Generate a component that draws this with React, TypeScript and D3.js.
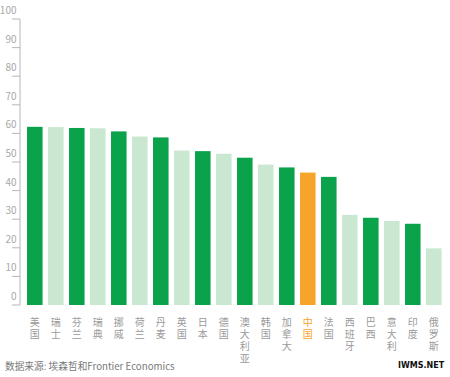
import React from "react";
import * as d3 from "d3";

const countries = ["美国","瑞士","芬兰","瑞典","挪威","荷兰","丹麦","英国","日本","德国","澳大利亚","韩国","加拿大","中国","法国","西班牙","巴西","意大利","印度","俄罗斯"];
const values = [62.3,62.2,61.9,61.8,60.7,58.9,58.6,54.0,53.8,52.9,51.5,49.1,48.1,46.3,44.8,31.5,30.5,29.4,28.4,19.8];
const shades = ["dark","light","dark","light","dark","light","dark","light","dark","light","dark","light","dark","orange","dark","light","dark","light","dark","light"];
const yTicks = [0,10,20,30,40,50,60,70,80,90,100];
const sourceText = "数据来源: 埃森哲和Frontier Economics";

const W = 450, H = 377;
const colorMap: Record<string, string> = { dark: "#0aa24b", light: "#c9e7d1", orange: "#f6a42a" };

export default function App() {
  const x = d3.scaleBand<string>().domain(countries).range([24.3, 444.3]).paddingInner(0.26).paddingOuter(0.13);
  const y = d3.scaleLinear().domain([0, 100]).range([305, 19]);
  const font = "'Noto Sans CJK SC', 'Noto Sans', sans-serif";
  return (
    <svg width={W} height={H} style={{ position: "absolute", left: 0, top: 0, background: "#fff" }}>
      {/* y axis */}
      <line x1={20} x2={20} y1={y(100)} y2={y(0)} stroke="#b8b4bd" strokeWidth={1} />
      {yTicks.map((t) => (
        <g key={t}>
          <line x1={12} x2={20} y1={y(t)} y2={y(t)} stroke="#b8b4bd" strokeWidth={1} />
          <text x={16.5} y={y(t) - 5} textAnchor="end" fontSize={10} fill="#a8a8a8" fontFamily={font}>{t}</text>
        </g>
      ))}
      {countries.map((c, i) => (
        <rect key={c} x={x(c)} y={y(values[i])} width={x.bandwidth()} height={y(0) - y(values[i])} fill={colorMap[shades[i]]} />
      ))}
      {countries.map((c, i) => (
        <text key={"l" + c} x={(x(c) as number) + x.bandwidth() / 2} y={317} fontSize={10}
          style={{ writingMode: "vertical-rl", letterSpacing: "2px" }}
          fill={shades[i] === "orange" ? "#f6a42a" : "#9a9a9a"} fontFamily={font}>{c}</text>
      ))}
      <text x={5} y={370} fontSize={9.7} fill="#777" fontFamily={font}>{sourceText}</text>
      <text x={398} y={368} fontSize={8} fontWeight="bold" fill="#111" fontFamily="'DejaVu Sans', sans-serif">IWMS.NET</text>
    </svg>
  );
}
